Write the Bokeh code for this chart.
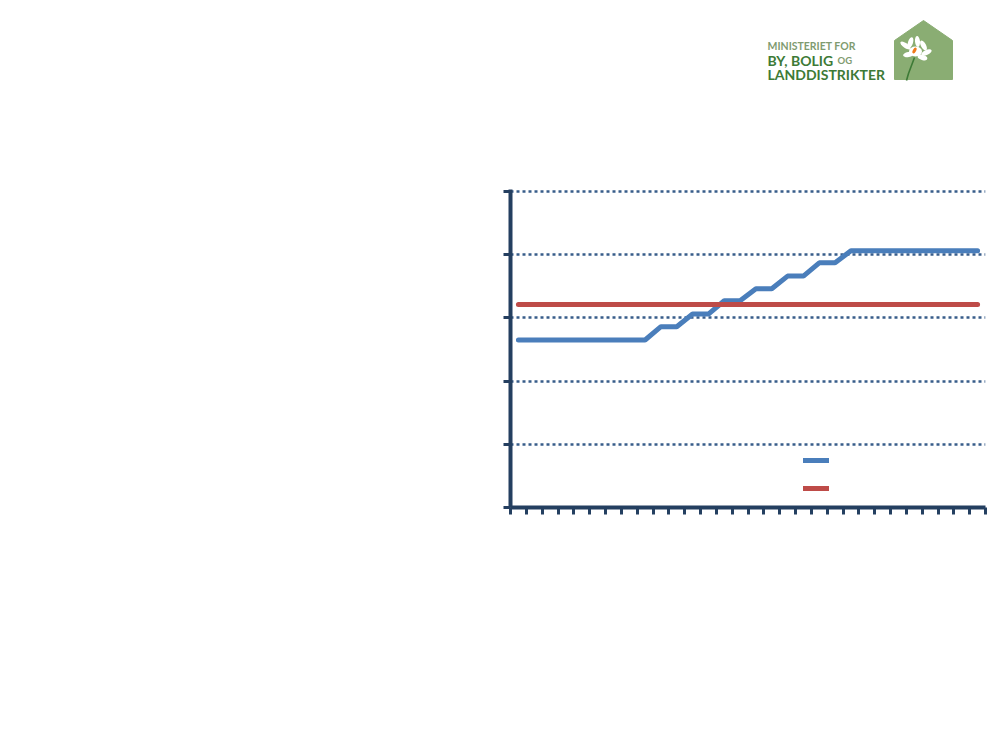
from bokeh.plotting import figure
from bokeh.models import (Range1d, FixedTicker, CustomJSTickFormatter, Legend, LegendItem,
                          ColumnDataSource)
from bokeh.layouts import column
from bokeh.core.properties import value
from bokeh.embed import file_html
from bokeh.resources import INLINE

# ---- data ----
periods = list(range(1, 31))
series_blue = [2.65, 2.65, 2.65, 2.65, 2.65, 2.65, 2.65, 2.65, 2.65,
               2.86, 2.86, 3.06, 3.06, 3.27, 3.27, 3.46, 3.46, 3.66, 3.66,
               3.87, 3.87,
               4.06, 4.06, 4.06, 4.06, 4.06, 4.06, 4.06, 4.06, 4.06]
series_red = [3.21] * 30
y_ticks = [0, 1, 2, 3, 4, 5]

BLUE = "#4a7ebb"
RED = "#be4b48"
AXIS = "#243f60"
GRID = "#385d8a"

W = 992
LEFT, RIGHT = 510, 7
LOGO_H = 100

# ---- logo strip (coordinates in page pixels) ----
logo = figure(width=W, height=LOGO_H, output_backend="svg", toolbar_location=None,
              x_range=Range1d(LEFT, W - RIGHT), y_range=Range1d(LOGO_H, 0),
              min_border_left=LEFT, min_border_right=RIGHT, min_border_top=0,
              min_border_bottom=0, outline_line_color=None)
logo.axis.visible = False
logo.grid.visible = False
# house
logo.patch(x=[894, 894, 923, 952, 952], y=[79, 40, 20, 40, 79],
           fill_color="#8aad73", line_color="#8aad73")
# stem
logo.line(x=[914, 911, 908, 906], y=[57, 65, 73, 80], line_color="#3d7a36", line_width=1.6)
# petals
logo.ellipse(x=[905, 910, 917, 923, 926, 908, 922],
             y=[45, 42, 41, 45, 52, 54, 57],
             width=[12, 5, 5, 5, 11, 11, 10], height=[5, 11, 11, 11, 5, 5, 5],
             angle=[-0.6, -0.3, 0.1, 0.5, 0.4, 0.2, -0.3],
             fill_color="white", line_color=None)
logo.ellipse(x=[915], y=[51], width=[13], height=[10], fill_color="white", line_color=None)
logo.ellipse(x=[914], y=[50], width=[3.2], height=[6.5], angle=[-0.5],
             fill_color="#f07a1a", line_color=None)
# texts
logo.text(x=[767], y=[45.8], text=["MINISTERIET FOR"], text_font=value("Lato"),
          text_font_style="bold", text_font_size="10.5px", text_color="#7f9b70",
          text_baseline="alphabetic")
logo.text(x=[767], y=[59.5], text=["BY, BOLIG"], text_font=value("Lato"),
          text_font_style="bold", text_font_size="14px", text_color="#3d7a36",
          text_baseline="alphabetic")
logo.text(x=[837], y=[59.5], text=["OG"], text_font=value("Lato"),
          text_font_style="bold", text_font_size="9.5px", text_color="#7f9b70",
          text_baseline="alphabetic")
logo.text(x=[767], y=[74], text=["LANDDISTRIKTER"], text_font=value("Lato"),
          text_font_style="bold", text_font_size="14px", text_color="#3d7a36",
          text_baseline="alphabetic")

# ---- chart ----
H = 642
p = figure(width=W, height=H, output_backend="svg", toolbar_location=None,
           x_range=Range1d(0, len(periods)), y_range=Range1d(y_ticks[0], y_ticks[-1] + 0.03),
           min_border_left=LEFT, min_border_right=RIGHT, min_border_top=89,
           min_border_bottom=235,
           outline_line_color=None, background_fill_color="white")

xs = [i + 0.5 for i in range(len(periods))]
src = ColumnDataSource(dict(x=xs, blue=series_blue, red=series_red))
r_blue = p.line("x", "blue", source=src, line_color=BLUE, line_width=5, line_cap="round")
r_red = p.line("x", "red", source=src, line_color=RED, line_width=5, line_cap="round")

empty = CustomJSTickFormatter(code="return ''")
p.xaxis.ticker = FixedTicker(ticks=list(range(len(periods) + 1)))
p.yaxis.ticker = FixedTicker(ticks=y_ticks)
for ax in (p.xaxis[0], p.yaxis[0]):
    ax.formatter = empty
    ax.axis_line_color = AXIS
    ax.axis_line_width = 4
    ax.major_tick_line_color = AXIS
    ax.major_tick_line_width = 3
    ax.major_tick_out = 7
    ax.major_tick_in = 0
    ax.minor_tick_line_color = None
    ax.major_label_standoff = 0

p.xgrid.grid_line_color = None
p.ygrid.ticker = FixedTicker(ticks=y_ticks[1:])
p.ygrid.grid_line_color = GRID
p.ygrid.grid_line_width = 2.5
p.ygrid.grid_line_dash = "3 3"

legend = Legend(items=[LegendItem(label=value(" "), renderers=[r_blue]),
                       LegendItem(label=value("  "), renderers=[r_red])],
                location=(293, 9), glyph_width=26, glyph_height=20, label_height=20,
                spacing=8, padding=0, margin=0, border_line_color=None,
                background_fill_alpha=0)
p.add_layout(legend, "center")

layout = column(logo, p, spacing=0)
open("out.html", "w").write(file_html(layout, INLINE))
